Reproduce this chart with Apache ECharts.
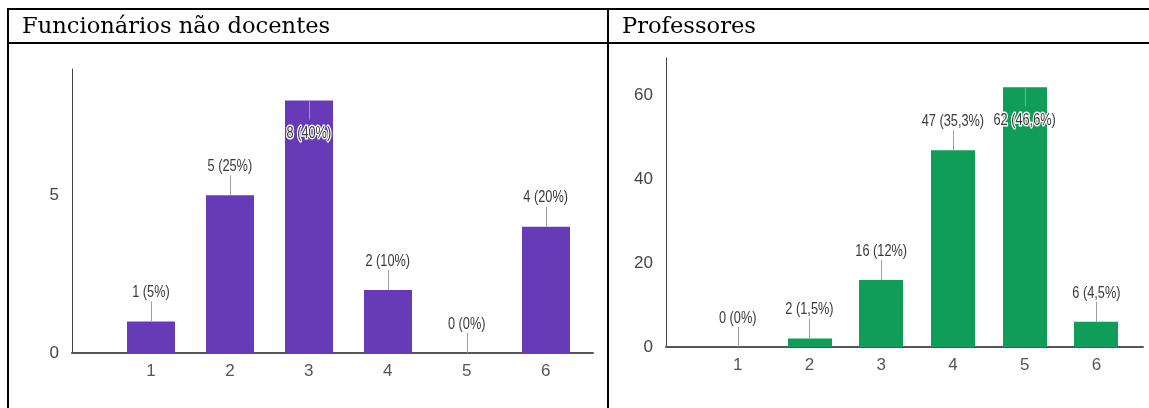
<!DOCTYPE html>
<html>
<head>
<meta charset="utf-8">
<title>Funcionários não docentes / Professores</title>
<script src="https://cdn.jsdelivr.net/npm/echarts@6/dist/echarts.min.js"></script>
<style>
  html, body { margin: 0; padding: 0; background: #fff; }
  #chart { width: 1149px; height: 408px; }
</style>
</head>
<body>
<div id="chart"></div>
<script>
// Answer options shared by both panels
const categories = ['1', '2', '3', '4', '5', '6'];

// Non-teaching staff: counts and shares
const staffCounts = [1, 5, 8, 2, 0, 4];
const staffShares = ['5%', '25%', '40%', '10%', '0%', '20%'];

// Teachers: counts and shares
const teacherCounts = [0, 2, 16, 47, 62, 6];
const teacherShares = ['0%', '1,5%', '12%', '35,3%', '46,6%', '4,5%'];

// Panel titles and value-axis ticks
const panelTitles = ['Funcionários não docentes', 'Professores'];
const staffTicks = [0, 5];
const teacherTicks = [0, 20, 40, 60];

const LABEL_FONT = '17px "Liberation Sans", Arial, sans-serif';
const TICK_FONT = '"Liberation Sans", Arial, sans-serif';
const TITLE_FONT = '22.6px "DejaVu Serif", serif';

function seriesData(counts, shares) {
  return counts.map((v, i) => [i + 1, v, v + ' (' + shares[i] + ')']);
}

// Bar with a short leader line and its value label (above, or inside when it would overflow)
function makeRenderItem(color) {
  return function (params, api) {
    const x = api.value(0);
    const v = api.value(1);
    const label = api.value(2);
    const top = api.coord([x, v]);
    const base = api.coord([x, 0]);
    const bw = api.size([1, 0])[0] * 0.61;
    const cs = params.coordSys;
    const above = top[1] - 38 >= cs.y;
    const children = [];
    if (base[1] - top[1] > 0) {
      children.push({
        type: 'rect',
        shape: { x: Math.round(top[0] - bw / 2), y: top[1], width: Math.round(bw), height: base[1] - top[1] },
        style: { fill: color }
      });
    }
    const lx = Math.round(top[0]) + 0.5;
    children.push({
      type: 'line',
      shape: { x1: lx, y1: top[1], x2: lx, y2: above ? top[1] - 20 : top[1] + 19 },
      style: { stroke: '#9e9e9e', lineWidth: 1 }
    });
    const textStyle = {
      text: label, x: 0, y: 0, align: 'center', verticalAlign: 'middle',
      font: LABEL_FONT, fill: '#3a3a3a'
    };
    if (!above) {
      textStyle.stroke = '#ffffff';
      textStyle.lineWidth = 3;
    }
    children.push({
      type: 'text',
      x: top[0], y: above ? top[1] - 29 : top[1] + 33,
      scaleX: 0.75,
      style: textStyle
    });
    return { type: 'group', children: children };
  };
}

function xAxis(gridIndex, max) {
  return {
    type: 'value', gridIndex: gridIndex, min: 0, max: max, interval: 1,
    axisLine: { show: true, lineStyle: { color: '#555', width: 2 } },
    axisTick: { show: false },
    splitLine: { show: false },
    axisLabel: {
      margin: 10, color: '#555', fontSize: 17, fontFamily: TICK_FONT,
      formatter: function (v) {
        return (Number.isInteger(v) && v >= 1 && v <= categories.length) ? categories[v - 1] : '';
      }
    }
  };
}

function yAxis(gridIndex, max, interval, ticks) {
  return {
    type: 'value', gridIndex: gridIndex, min: 0, max: max, interval: interval,
    axisLine: { show: true, lineStyle: { color: '#444', width: 1 } },
    axisTick: { show: false },
    splitLine: { show: false },
    axisLabel: {
      margin: 13, color: '#444', fontSize: 17, fontFamily: TICK_FONT,
      formatter: function (v) { return ticks.indexOf(v) >= 0 ? String(v) : ''; }
    }
  };
}

// Table frame around the two panels
function frameLine(x1, y1, x2, y2) {
  return { type: 'line', silent: true, shape: { x1: x1, y1: y1, x2: x2, y2: y2 }, style: { stroke: '#000', lineWidth: 2 } };
}

const chart = echarts.init(document.getElementById('chart'), null, { renderer: 'canvas' });
chart.setOption({
  animation: false,
  backgroundColor: '#ffffff',
  grid: [
    { left: 72, top: 69, width: 521, height: 284 },
    { left: 666, top: 58, width: 477, height: 289 }
  ],
  xAxis: [xAxis(0, 6.6), xAxis(1, 6.65)],
  yAxis: [yAxis(0, 9, 5, staffTicks), yAxis(1, 69, 20, teacherTicks)],
  series: [
    {
      type: 'custom', xAxisIndex: 0, yAxisIndex: 0,
      encode: { x: 0, y: 1 },
      renderItem: makeRenderItem('#673ab7'),
      data: seriesData(staffCounts, staffShares)
    },
    {
      type: 'custom', xAxisIndex: 1, yAxisIndex: 1,
      encode: { x: 0, y: 1 },
      renderItem: makeRenderItem('#0f9d58'),
      data: seriesData(teacherCounts, teacherShares)
    }
  ],
  graphic: [
    frameLine(7, 9, 1149, 9),
    frameLine(7, 43, 1149, 43),
    frameLine(8, 8, 8, 408),
    frameLine(608, 8, 608, 408),
    {
      type: 'text', x: 22, y: 27, silent: true,
      style: { text: panelTitles[0], font: TITLE_FONT, fill: '#000', verticalAlign: 'middle' }
    },
    {
      type: 'text', x: 622, y: 27, silent: true,
      style: { text: panelTitles[1], font: TITLE_FONT, fill: '#000', verticalAlign: 'middle' }
    }
  ]
});
</script>
</body>
</html>
